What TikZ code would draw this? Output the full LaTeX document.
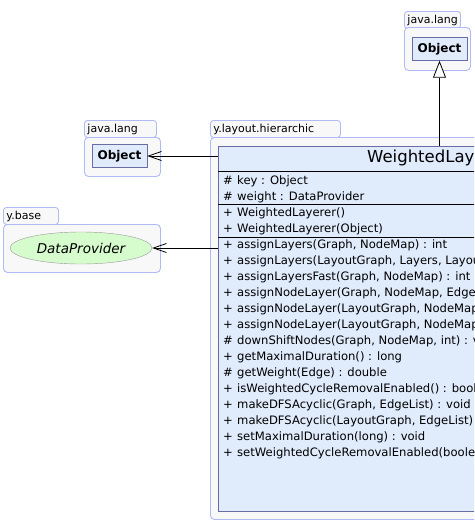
\documentclass[tikz,border=0pt]{standalone}
\usepackage{fontspec}
\setmainfont{DejaVu Sans}
\usetikzlibrary{positioning, arrows.meta, shapes.geometric, calc}

\definecolor{pkgline}{HTML}{B0BAF6}
\definecolor{pkgfill}{HTML}{F8F8F8}
\definecolor{clsline}{HTML}{6C6CA4}
\definecolor{clsfill}{HTML}{E0EBFC}
\definecolor{ifcfill}{HTML}{D6FCCE}

\begin{document}
\begin{tikzpicture}[x=1pt, y=-1pt,
    pkgtab/.style={draw=pkgline, fill=pkgfill, line width=0.9pt, rounded corners=3pt, anchor=north west,
        inner xsep=3pt, inner ysep=0pt, minimum height=17pt, align=left,
        font=\fontsize{11}{12}\selectfont, text height=8.5pt, text depth=2pt},
    pkgbody/.style={draw=pkgline, fill=pkgfill, line width=0.9pt, rounded corners=4pt, anchor=north west,
        inner sep=0pt},
    classbox/.style={draw=clsline, fill=clsfill, anchor=north west, inner sep=0pt, line width=0.8pt},
    refbox/.style={draw=clsline, fill=clsfill, inner sep=0pt, minimum width=55pt,
        minimum height=23pt, font=\fontsize{12}{14}\selectfont\bfseries},
    ifcnode/.style={ellipse, draw=black!40, fill=ifcfill, inner sep=0pt, minimum width=142pt,
        minimum height=32pt, font=\fontsize{13.5}{15}\selectfont\itshape},
    member/.style={anchor=west, inner sep=0pt, font=\fontsize{11.6}{13}\selectfont,
        text height=8.5pt, text depth=2.5pt},
    sep/.style={line width=0.8pt},
    dep/.style={line width=0.8pt, -{Straight Barb[length=13pt, width=9pt]}},
    inherit/.style={line width=0.8pt, -{Triangle[length=17pt, width=13pt, fill=white]}}
  ]
    \useasboundingbox (0,0) rectangle (474,522);
    \clip (0,0) rectangle (474,522);

    % packages
    \node[pkgtab, minimum width=56pt, text width=50pt] (tabtop) at (404,11) {java.lang};
    \node[pkgbody, minimum width=66pt, minimum height=43pt] (pkgtop) at (404,27) {};
    \node[pkgtab, minimum width=72pt, text width=66pt] (tableft) at (84,120) {java.lang};
    \node[pkgbody, minimum width=76pt, minimum height=39pt] (pkgleft) at (84,137) {};
    \node[pkgtab, minimum width=55pt, text width=49pt] (tabbase) at (3,207) {y.base};
    \node[pkgbody, minimum width=157pt, minimum height=48pt] (pkgbase) at (3,224) {};
    \node[pkgtab, minimum width=130pt, text width=124pt] (tabhier) at (210,120) {y.layout.hierarchic};
    \node[pkgbody, minimum width=500pt, minimum height=382pt] (pkghier) at (210,137) {};

    % referenced types
    \node[refbox] (objtop) at (439.5,49) {Object};
    \node[refbox] (objleft) at (119.5,156) {Object};
    \node[ifcnode] (dataprov) at (81,248) {DataProvider};

    % the class
    \node[classbox, minimum width=480pt, minimum height=365pt] (cls) at (218,146) {};
    \node[anchor=west, inner sep=0pt, font=\fontsize{16.5}{18}\selectfont] (clsname) at (367,158) {WeightedLayerer};
    \draw[sep] (cls.west |- 0,171) -- (cls.east |- 0,171);
    \draw[sep] (cls.west |- 0,204.5) -- (cls.east |- 0,204.5);
    \draw[sep] (cls.west |- 0,237) -- (cls.east |- 0,237);

    \foreach \p/\t [count=\i] in {
        \#/{key : Object},
        \#/{weight : DataProvider},
        +/{WeightedLayerer()},
        +/{WeightedLayerer(Object)},
        +/{assignLayers(Graph, NodeMap) : int},
        +/{assignLayers(LayoutGraph, Layers, LayoutDataProvider) : void},
        +/{assignLayersFast(Graph, NodeMap) : int},
        +/{assignNodeLayer(Graph, NodeMap, EdgeList) : int},
        +/{assignNodeLayer(LayoutGraph, NodeMap, EdgeList) : int},
        +/{assignNodeLayer(LayoutGraph, NodeMap, EdgeList, DataProvider) : int},
        \#/{downShiftNodes(Graph, NodeMap, int) : void},
        +/{getMaximalDuration() : long},
        \#/{getWeight(Edge) : double},
        +/{isWeightedCycleRemovalEnabled() : boolean},
        +/{makeDFSAcyclic(Graph, EdgeList) : void},
        +/{makeDFSAcyclic(LayoutGraph, EdgeList) : void},
        +/{setMaximalDuration(long) : void},
        +/{setWeightedCycleRemovalEnabled(boolean) : void}}{
        \node[member] (vis\i) at (223, 165+16*\i) {\p};
        \node[member] (mem\i) at (237, 165+16*\i) {\t};
    }

    % connectors
    \draw[inherit] (cls.north -| objtop.south) -- (objtop.south);
    \draw[dep] (cls.west |- objleft.east) -- (objleft.east);
    \draw[dep] (cls.west |- dataprov.east) -- (dataprov.east);
\end{tikzpicture}
\end{document}
